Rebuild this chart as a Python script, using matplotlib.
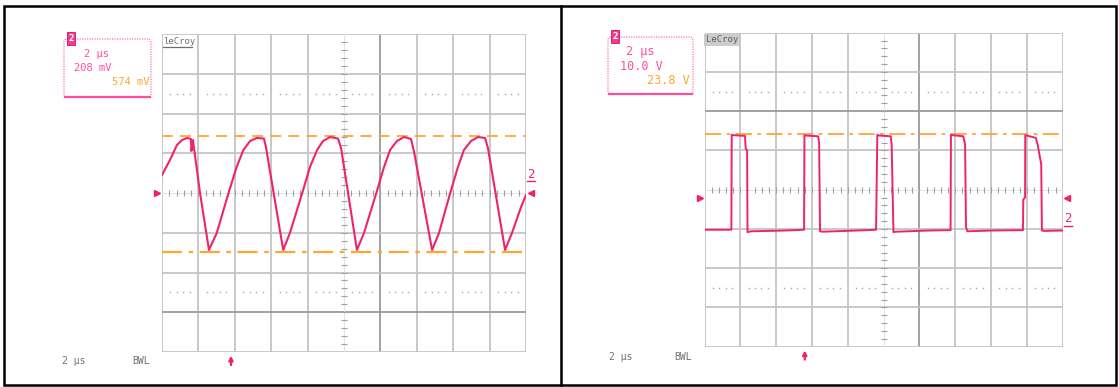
import matplotlib
matplotlib.use("Agg")
import matplotlib.pyplot as plt
from matplotlib.patches import FancyBboxPatch, Rectangle

W, H = 1119, 387

# --- left capture: 2 us/div, 208 mV/div ---
left_t_us = [0.00, 0.44, 0.82, 1.10, 1.37, 1.59, 1.62, 1.70, 2.09, 2.58,
             3.01, 3.64, 4.10, 4.47, 4.84, 5.20, 5.60, 5.71, 6.66,
             7.03, 7.69, 8.13, 8.52, 8.85, 9.23, 9.67, 9.84, 10.71,
             11.10, 11.76, 12.20, 12.53, 12.91, 13.30, 13.68, 13.85, 14.84,
             15.22, 15.82, 16.26, 16.59, 16.98, 17.36, 17.75, 17.91, 18.85,
             19.23, 19.73, 20.00]
left_mv = [94, 173, 251, 277, 288, 283, 220, 277, 0, -298,
           -209, -5, 136, 225, 272, 288, 285, 241, -298,
           -209, -5, 136, 225, 272, 293, 285, 235, -298,
           -209, -5, 136, 225, 272, 293, 283, 215, -298,
           -209, -5, 136, 225, 272, 293, 288, 235, -298,
           -209, -73, -10]
left_cursors_mv = [298, -308]
left_ground_mv = 0
left_trigger_us = 3.79

# --- right capture: 2 us/div, 10 V/div ---
right_t_us = [0.00, 1.50, 1.52, 1.60, 2.26, 2.30, 2.38, 2.40, 2.60, 4.50,
              5.56, 5.58, 5.67, 6.34, 6.40, 6.45, 6.60, 8.50,
              9.58, 9.62, 9.65, 9.75, 10.40, 10.45, 10.55, 10.70, 12.50,
              13.74, 13.76, 13.85, 14.45, 14.55, 14.60, 14.68, 16.00,
              17.78, 17.80, 17.90, 17.91, 18.00, 18.50, 18.60, 18.80, 18.84, 19.00, 20.00]
right_v = [-10.2, -10.2, 14.0, 13.9, 13.7, 10.5, 10.0, -10.8, -10.6, -10.4,
           -10.2, 13.9, 13.8, 13.6, 12.0, -10.6, -10.7, -10.4,
           -10.2, 4.0, 14.0, 13.8, 13.6, 11.5, -10.8, -10.7, -10.4,
           -10.3, 14.0, 13.9, 13.6, 11.5, -9.5, -10.6, -10.4,
           -10.3, -2.5, -2.0, 13.9, 13.8, 13.2, 11.5, 6.5, -10.4, -10.5, -10.4]
right_cursor_v = 14.1
right_ground_v = -2.0
right_trigger_us = 5.6

TRACE = "#f0226e"
ORANGE = "#ffa530"
PINK = "#ff4f9a"
GRID = "#c4c4c4"
DARK = "#9a9a9a"


def px_box(x0, y0, x1, y1):
    return [x0 / W, 1 - y1 / H, (x1 - x0) / W, (y1 - y0) / H]


def draw_screen(ax, vdiv, dark_row):
    ax.set_xlim(0, 20)
    ax.set_ylim(-4 * vdiv, 4 * vdiv)
    ax.set_axis_off()
    for i in range(11):
        if i == 5:
            continue
        ax.axvline(i * 2, color=DARK if i == 6 else GRID, lw=1.3, zorder=1)
    for j in range(-4, 5):
        if j == 0:
            continue
        ax.axhline(j * vdiv, color=DARK if j == dark_row else GRID, lw=1.3, zorder=1)
    # centre cross with small ticks
    ax.axhline(0, color="#e2e2e2", lw=0.7, zorder=1)
    ax.axvline(10, color="#e2e2e2", lw=0.7, zorder=1)
    ts = [k * 0.4 for k in range(1, 50)]
    ax.plot(ts, [0] * len(ts), ls="none", marker="|", ms=4.5, mew=0.8, color="#a0a0a0", zorder=1)
    vs = [k * 0.2 * vdiv for k in range(-19, 20) if k != 0]
    ax.plot([10] * len(vs), vs, ls="none", marker="_", ms=4.5, mew=0.8, color="#a0a0a0", zorder=1)
    # dotted rows, four dots per division
    dots = [i * 2 + f for i in range(10) for f in (0.46, 0.82, 1.18, 1.54)]
    for s in (-2.5, 2.5):
        ax.plot(dots, [s * vdiv] * len(dots), ls="none", marker="s", ms=1.0,
                mew=0, color="#a8a8a8", zorder=1)


fig = plt.figure(figsize=(W / 100, H / 100), dpi=100)

# overlay in pixel coordinates for borders and readouts
ov = fig.add_axes([0, 0, 1, 1])
ov.set_xlim(0, W)
ov.set_ylim(H, 0)
ov.set_axis_off()
ov.add_patch(Rectangle((4, 6), 1112, 379, fill=False, ec="black", lw=1.8))
ov.plot([561, 561], [6, 385], color="black", lw=1.8)

# --- left screen ---
axl = fig.add_axes(px_box(162, 34, 526, 352))
draw_screen(axl, 208, -3)
axl.axhline(left_cursors_mv[0], color=ORANGE, lw=1.3, ls=(0, (6, 4)), zorder=2)
axl.axhline(left_cursors_mv[1], color=ORANGE, lw=1.6, ls=(0, (9, 3, 2, 3)), zorder=2)
axl.plot(left_t_us, left_mv, color=TRACE, lw=1.5, zorder=3)
axl.plot([-0.3], [left_ground_mv], marker=">", ms=4, color=TRACE, clip_on=False)
axl.plot([20.25], [left_ground_mv], marker="<", ms=4, color=TRACE, clip_on=False)
axl.annotate("", xy=(left_trigger_us, -0.003), xycoords=("data", "axes fraction"),
             xytext=(left_trigger_us, -0.05), textcoords=("data", "axes fraction"),
             arrowprops=dict(arrowstyle="-|>", color=TRACE, lw=1.6, mutation_scale=6))

# --- right screen ---
axr = fig.add_axes(px_box(704.5, 32.7, 1062.7, 346.7))
draw_screen(axr, 10, 2)
axr.axhline(right_cursor_v, color=ORANGE, lw=1.3, ls=(0, (9, 3, 2, 3)), zorder=2)
axr.plot(right_t_us, right_v, color=TRACE, lw=1.4, zorder=3)
axr.plot([-0.25], [right_ground_v], marker=">", ms=4, color=TRACE, clip_on=False)
axr.plot([20.25], [right_ground_v], marker="<", ms=4, color=TRACE, clip_on=False)
axr.annotate("", xy=(right_trigger_us, -0.003), xycoords=("data", "axes fraction"),
             xytext=(right_trigger_us, -0.05), textcoords=("data", "axes fraction"),
             arrowprops=dict(arrowstyle="-|>", color=TRACE, lw=1.6, mutation_scale=6))

mono = "DejaVu Sans Mono"

# readout boxes
for (bx, by, bw, bh, badge_x) in [(64, 39, 87, 58, 67), (608, 37, 85, 57, 611)]:
    ov.add_patch(FancyBboxPatch((bx, by), bw, bh, boxstyle="round,pad=0,rounding_size=3",
                                fill=False, ec="#ff70b0", lw=0.9, ls=(0, (1, 1))))
    ov.plot([bx + 1, bx + bw - 1], [by + bh, by + bh], color="#ff4f9a", lw=1.6)
    ov.add_patch(Rectangle((badge_x, by - 7), 8, 13, fc="#f23c8c", ec="#d0106a", lw=0.6))
    ov.text(badge_x + 4, by - 0.5, "2", color="white", fontsize=6.5, fontweight="bold",
            ha="center", va="center", family=mono)

ov.text(97, 54, "2 µs", color=PINK, fontsize=7.5, ha="center", va="center", family=mono)
ov.text(93, 68, "208 mV", color=PINK, fontsize=7.5, ha="center", va="center", family=mono)
ov.text(149, 82, "574 mV", color=ORANGE, fontsize=7.5, ha="right", va="center", family=mono)

ov.text(640, 52, "2 µs", color=PINK, fontsize=8.5, ha="center", va="center", family=mono)
ov.text(641, 66, "10.0 V", color=PINK, fontsize=8.5, ha="center", va="center", family=mono)
ov.text(690, 80, "23.8 V", color=ORANGE, fontsize=8.5, ha="right", va="center", family=mono)

# LeCroy labels
ov.text(163, 41, "leCroy", color="#6e6e6e", fontsize=6.5, ha="left", va="center", family=mono)
ov.plot([163, 192], [47, 47], color="#6e6e6e", lw=0.9)
ov.text(706, 40, "LeCroy", color="#5e5e5e", fontsize=6.5, ha="left", va="center", family=mono,
        bbox=dict(fc="#cccccc", ec="none", pad=1.2))

# channel labels on right edge
ov.text(531, 174, "2", color=TRACE, fontsize=9, ha="center", va="center", family=mono)
ov.plot([527, 535], [181, 181], color=TRACE, lw=1.0)
ov.text(1068, 219, "2", color=TRACE, fontsize=9, ha="center", va="center", family=mono)
ov.plot([1064, 1072], [226, 226], color=TRACE, lw=1.0)

# bottom readouts
ov.text(62, 361, "2 µs", color="#707070", fontsize=7, ha="left", va="center", family=mono)
ov.text(132, 361, "BWL", color="#707070", fontsize=7, ha="left", va="center", family=mono)
ov.text(609, 357, "2 µs", color="#707070", fontsize=7, ha="left", va="center", family=mono)
ov.text(674, 357, "BWL", color="#707070", fontsize=7, ha="left", va="center", family=mono)

fig.savefig("out.png", dpi=100)
